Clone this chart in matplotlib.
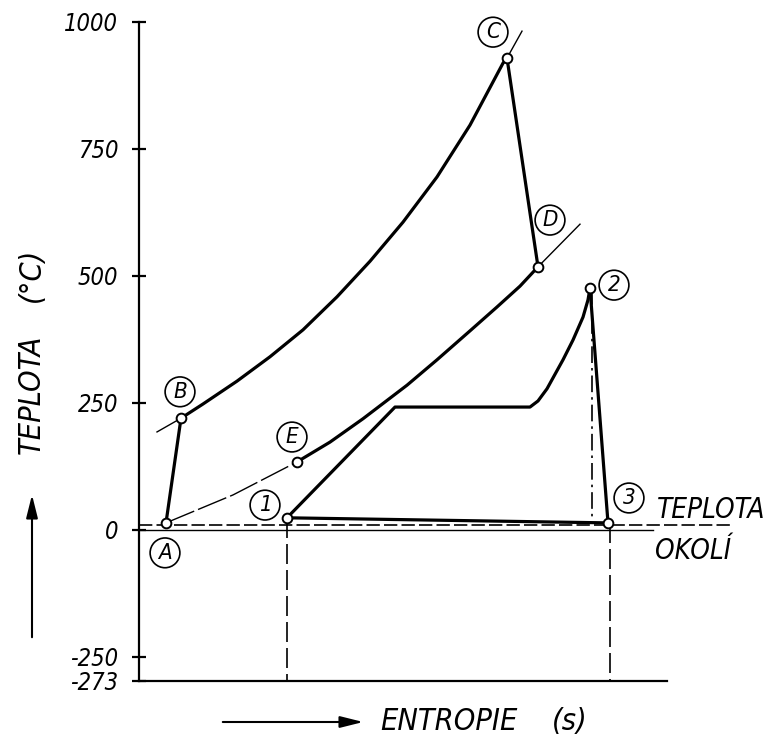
import matplotlib
matplotlib.use('Agg')
import matplotlib.pyplot as plt
from matplotlib import font_manager
from matplotlib.font_manager import FontProperties

W, H, DPI = 770, 737, 100

# condensed oblique font if available (technical lettering look)
cond = [f.fname for f in font_manager.fontManager.ttflist
        if 'DejaVuSansCondensed-Oblique' in f.fname]
if cond:
    FP = lambda size: FontProperties(fname=cond[0], size=size)
    TICK_FS, LAB_FS, SMALL_FS, CIRC_FS = 17, 22, 20, 16
else:
    FP = lambda size: FontProperties(family='DejaVu Sans', style='italic', size=size)
    TICK_FS, LAB_FS, SMALL_FS, CIRC_FS = 15, 20, 18, 15

# ---------------- data (entropy in arbitrary units, temperature in degC) ----------------
ytick_vals = [-297, -250, 0, 250, 500, 750, 1000]
ytick_labels = ['-273', '-250', '0', '250', '500', '750', '1000']
ambient_T = 10
axis_s_max = 10.56
zero_line_s_max = 10.28
ambient_line_s_max = 11.88

# gas isobar (upper): B -> C (heavy)
bc_s = [0.84, 1.28, 1.96, 2.62, 3.28, 3.96, 4.62, 5.28, 5.96, 6.62, 7.28, 7.36]
bc_T = [220, 248, 293, 341, 394, 459, 529, 606, 695, 797, 919, 929]
# thin continuations of the upper isobar
bc_lo_s = [0.36, 0.84]
bc_lo_T = [193, 220]
bc_hi_s = [7.36, 7.66]
bc_hi_T = [929, 982]

# lower isobar: A -> E (thin), E -> D (heavy), thin continuation after D
ae_s = [0.54, 1.88, 3.16]
ae_T = [14, 69, 134]
ed_s = [3.16, 3.82, 4.48, 5.36, 5.96, 6.62, 7.16, 7.62, 7.98]
ed_T = [134, 173, 219, 285, 335, 392, 439, 480, 518]
d_ext_s = [7.98, 8.82]
d_ext_T = [518, 602]

# compression A -> B, expansion C -> D
ab_s = [0.54, 0.84]
ab_T = [14, 220]
cd_s = [7.36, 7.98]
cd_T = [929, 518]

# steam cycle: 1 -> evaporation plateau -> superheat -> 2 -> 3 -> 1
steam_s = [2.96, 5.12, 7.82, 7.98, 8.16, 8.48, 8.68, 8.88, 8.98, 9.02]
steam_T = [24, 242, 242, 254, 278, 335, 374, 419, 453, 476]
exp23_s = [9.02, 9.38]
exp23_T = [476, 14]
cond31_s = [9.38, 2.96]
cond31_T = [14, 24]
isent_s = 9.06
isent_T = [476, 17]

# projections down to absolute zero
proj_s = [2.96, 9.42]
proj_top_T = [24, 14]
abs_zero_T = -297

# state points
pt_names = ['A', 'B', 'C', 'D', 'E', '1', '2', '3']
pt_s = [0.54, 0.84, 7.36, 7.98, 3.16, 2.96, 9.02, 9.38]
pt_T = [14, 220, 929, 518, 134, 24, 476, 14]
# label positions
lab_s = [0.52, 0.82, 7.08, 8.22, 3.06, 2.52, 9.50, 9.80]
lab_T = [-45, 272, 980, 610, 183, 49, 482, 63]

# ---------------- figure ----------------
fig = plt.figure(figsize=(W / DPI, H / DPI), dpi=DPI)
ax = fig.add_axes([0, 0, 1, 1])
ax.set_xlim(-2.78, 12.62)
ax.set_ylim(-407.5, 1043.3)

HEAVY = 2.3
THIN = 1.0
K = 'black'

# axes spines
for side in ['top', 'right']:
    ax.spines[side].set_visible(False)
ax.spines['left'].set_position(('data', 0))
ax.spines['left'].set_bounds(-297, 1000)
ax.spines['left'].set_linewidth(1.6)
ax.spines['bottom'].set_position(('data', abs_zero_T))
ax.spines['bottom'].set_bounds(0, axis_s_max)
ax.spines['bottom'].set_linewidth(1.6)
ax.set_xticks([])
ax.set_yticks(ytick_vals)
ax.set_yticklabels(ytick_labels)
for lbl in ax.get_yticklabels():
    lbl.set_fontproperties(FP(TICK_FS))
ax.tick_params(axis='y', direction='inout', length=10, width=1.6, pad=10)

# reference lines
ax.plot([0, zero_line_s_max], [0, 0], color=K, lw=1.0)
ax.plot([0, ambient_line_s_max], [ambient_T, ambient_T], color=K, lw=1.2,
        linestyle=(0, (8, 2.5)), clip_on=False)

# gas cycle
ax.plot(bc_s, bc_T, color=K, lw=HEAVY, solid_capstyle='round')
ax.plot(bc_lo_s, bc_lo_T, color=K, lw=THIN)
ax.plot(bc_hi_s, bc_hi_T, color=K, lw=THIN)
ax.plot(ae_s, ae_T, color=K, lw=THIN, linestyle=(0, (22, 3)))
ax.plot(ed_s, ed_T, color=K, lw=HEAVY)
ax.plot(d_ext_s, d_ext_T, color=K, lw=THIN)
ax.plot(ab_s, ab_T, color=K, lw=HEAVY)
ax.plot(cd_s, cd_T, color=K, lw=HEAVY)

# steam cycle
ax.plot(steam_s, steam_T, color=K, lw=HEAVY)
ax.plot(exp23_s, exp23_T, color=K, lw=HEAVY)
ax.plot(cond31_s, cond31_T, color=K, lw=HEAVY)
ax.plot([isent_s, isent_s], isent_T, color=K, lw=1.2, linestyle=(0, (10, 3, 1.5, 3)))

# projections
for s, t in zip(proj_s, proj_top_T):
    ax.plot([s, s], [t, abs_zero_T], color=K, lw=1.2, linestyle=(0, (12, 3.6)))

# state points
ax.plot(pt_s, pt_T, 'o', ms=7, mfc='white', mec=K, mew=1.4, zorder=5)
for name, s, t in zip(pt_names, lab_s, lab_T):
    ax.text(s, t, name, fontproperties=FP(CIRC_FS), ha='center', va='center',
            bbox=dict(boxstyle='circle,pad=0.22', fc='white', ec=K, lw=1.2), zorder=6)

# axis titles
ax.text(31 / W, 1 - 394 / H, 'TEPLOTA', transform=ax.transAxes, rotation=90,
        fontproperties=FP(LAB_FS), ha='center', va='center')
ax.text(31 / W, 1 - 275 / H, '(°C)', transform=ax.transAxes, rotation=90,
        fontproperties=FP(LAB_FS), ha='center', va='center')
ax.annotate('', xy=(32 / W, 1 - 492 / H), xytext=(32 / W, 1 - 640 / H),
            xycoords='axes fraction', textcoords='axes fraction',
            arrowprops=dict(arrowstyle='-|>,head_length=1.4,head_width=0.35', color=K, lw=1.5))
ax.text(380 / W, 1 - 721 / H, 'ENTROPIE', transform=ax.transAxes,
        fontproperties=FP(LAB_FS), ha='left', va='center')
ax.text(588 / W, 1 - 721 / H, '(s)', transform=ax.transAxes,
        fontproperties=FP(LAB_FS), ha='right', va='center')
ax.annotate('', xy=(366 / W, 1 - 722 / H), xytext=(220 / W, 1 - 722 / H),
            xycoords='axes fraction', textcoords='axes fraction',
            arrowprops=dict(arrowstyle='-|>,head_length=1.4,head_width=0.35', color=K, lw=1.5))

# ambient temperature label
ax.text(657 / W, 1 - 510 / H, 'TEPLOTA', transform=ax.transAxes,
        fontproperties=FP(SMALL_FS), ha='left', va='center')
ax.text(655 / W, 1 - 551 / H, 'OKOLÍ', transform=ax.transAxes,
        fontproperties=FP(SMALL_FS), ha='left', va='center')

fig.savefig('out.png', dpi=DPI, facecolor='white')
